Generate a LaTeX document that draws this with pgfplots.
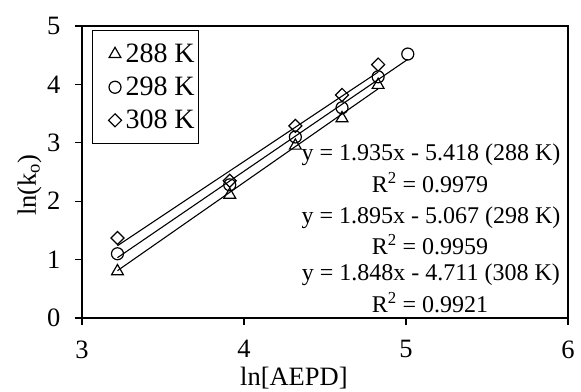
\documentclass[border=0pt]{standalone}
\usepackage{fontspec}
\setmainfont{Liberation Serif}
\usepackage{pgfplots}
\pgfplotsset{compat=1.18}
\begin{document}
\begin{tikzpicture}[x=1bp,y=1bp]
\begin{axis}[
  scale only axis,
  width=486bp, height=292bp,
  xmin=3, xmax=6, ymin=0, ymax=5,
  xtick={3,4,5,6}, ytick={0,1,2,3,4,5},
  xtick pos=bottom, ytick pos=left,
  tick align=outside,
  major tick length=7bp,
  axis line style={line width=1.4bp},
  every tick/.style={line width=1.2bp, black},
  /pgf/number format/assume math mode=true,
  tick label style={font=\fontsize{26.5bp}{30bp}\selectfont},
  yticklabel style={xshift=-11bp},
  xticklabel style={yshift=-12bp},
  xlabel={ln[AEPD]},
  ylabel={ln(k\textsubscript{o})},
  label style={font=\fontsize{26.5bp}{30bp}\selectfont},
  xlabel style={at={(axis description cs:0.436,0)}, anchor=center, yshift=-60bp},
  ylabel style={at={(axis description cs:-0.076,0.455)}, anchor=south},
  legend style={at={(axis description cs:0.0206,0.986)}, anchor=north west,
    font=\fontsize{28bp}{32bp}\selectfont, draw=black, line width=1bp,
    row sep=9bp, inner xsep=2bp, inner ysep=11.5bp},
  legend image code/.code={\path (0bp,0bp) (28bp,0bp); \draw[#1] plot coordinates {(20bp,0bp)};},
  legend cell align=left,
  clip=false,
]
\addplot[only marks, mark=triangle, mark size=6.8bp, mark options={line width=1.2bp}] coordinates {
 (3.219,0.80) (3.912,2.11) (4.317,2.95) (4.605,3.42) (4.828,3.99)};
\addlegendentry{288 K}
\addplot[only marks, mark=o, mark size=6bp, mark options={line width=1.2bp}] coordinates {
 (3.219,1.10) (3.912,2.28) (4.317,3.10) (4.605,3.60) (4.828,4.13) (5.011,4.52)};
\addlegendentry{298 K}
\addplot[only marks, mark=square, mark size=4.6bp, mark options={line width=1.2bp, rotate=45}] coordinates {
 (3.219,1.37) (3.912,2.35) (4.317,3.29) (4.605,3.82) (4.828,4.34)};
\addlegendentry{308 K}
\addplot[black, line width=1.1bp, forget plot] coordinates {(3.219,0.811) (4.828,3.924)};
\addplot[black, line width=1.1bp, forget plot] coordinates {(3.219,1.033) (5.011,4.429)};
\addplot[black, line width=1.1bp, forget plot] coordinates {(3.219,1.238) (4.828,4.211)};
\begin{scope}[every node/.style={font=\fontsize{24bp}{26bp}\selectfont, inner sep=0pt, anchor=center}]
\node at (axis cs:5.154,2.79) {y = 1.935x - 5.418 (288 K)};
\node at (axis cs:5.148,2.31) {R\textsuperscript{2} = 0.9979};
\node at (axis cs:5.154,1.71) {y = 1.895x - 5.067 (298 K)};
\node at (axis cs:5.148,1.25) {R\textsuperscript{2} = 0.9959};
\node at (axis cs:5.154,0.74) {y = 1.848x - 4.711 (308 K)};
\node at (axis cs:5.148,0.27) {R\textsuperscript{2} = 0.9921};
\end{scope}
\end{axis}
\pgfresetboundingbox
\path ([shift={(-82bp,-74bp)}]current axis.south west) rectangle ([shift={(13bp,26bp)}]current axis.north east);
\end{tikzpicture}
\end{document}
